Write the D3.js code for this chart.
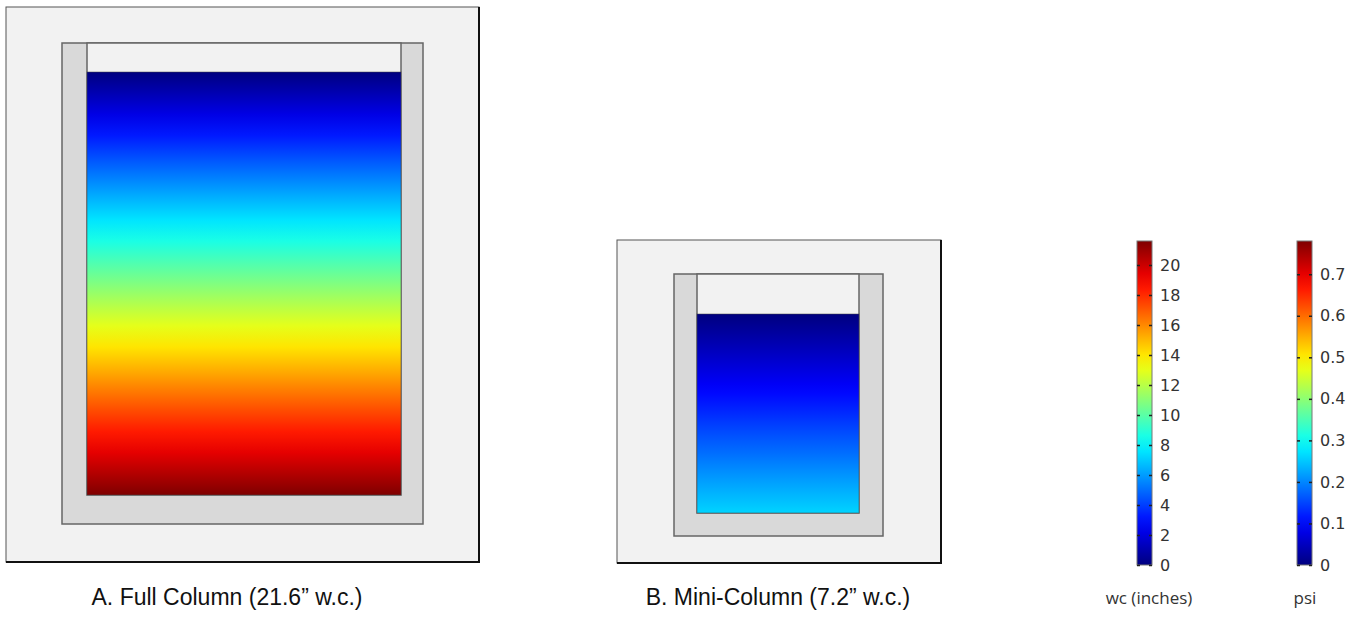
<!DOCTYPE html>
<html lang="en">
    <head>
        <meta charset="utf-8">
        <title>Hydrostatic pressure: full column vs mini-column</title>
        <script type="text/javascript" src="https://cdn.jsdelivr.net/npm/d3@7"></script>
        <style type="text/css">
            body { margin: 0; background: #ffffff; }
        </style>
    </head>

    <body>
        <script type="text/javascript">
            // Chart values
            var panelLabels = ["A. Full Column (21.6\u201D w.c.)", "B. Mini-Column (7.2\u201D w.c.)"];
            var columnDepths = [21.6, 7.2];          // water column height, inches w.c.
            var wcMax = 21.6;                        // colour scale max, inches w.c.
            var psiMax = 0.78;                       // same max in psi
            var wcTicks = [0, 2, 4, 6, 8, 10, 12, 14, 16, 18, 20];
            var psiTicks = [0, 0.1, 0.2, 0.3, 0.4, 0.5, 0.6, 0.7];
            var barTitles = ["wc (inches)", "psi"];

            // Layout of each drawing (pixels)
            var w = 1356;
            var h = 637;
            var panels = [
                { outer: [6, 7, 473, 555], box: [62, 43, 361, 481], cav: [87, 401, 495], fluidTop: 72, labelX: 227 },
                { outer: [617, 240, 324, 323], box: [674, 274, 209, 262], cav: [697, 859, 513], fluidTop: 314, labelX: 778 }
            ];

            // jet colour map, as used by the simulation output
            var jetStops = [[0, "#00007f"], [0.125, "#0000ff"], [0.375, "#00ffff"],
                            [0.625, "#ffff00"], [0.875, "#ff0000"], [1, "#7f0000"]];
            var jet = d3.scaleLinear()
                        .domain(jetStops.map(function(s) { return s[0]; }))
                        .range(jetStops.map(function(s) { return s[1]; }))
                        .interpolate(d3.interpolateRgb);

            var svg = d3.select("body")
                        .append("svg")
                        .attr("width", w)
                        .attr("height", h);

            var defs = svg.append("defs");

            // vertical gradient from 0 to a given value (in inches)
            function addGradient(id, maxVal) {
                var g = defs.append("linearGradient")
                            .attr("id", id)
                            .attr("x1", 0).attr("y1", 0)
                            .attr("x2", 0).attr("y2", 1);
                g.selectAll("stop")
                    .data(d3.range(0, 21))
                    .enter()
                    .append("stop")
                    .attr("offset", function(d) { return (d / 20 * 100) + "%"; })
                    .attr("stop-color", function(d) { return jet(d / 20 * maxVal / wcMax); });
            }

            panels.forEach(function(p, i) {
                var depth = columnDepths[i];
                var gp = svg.append("g");

                // outer frame
                gp.append("rect")
                    .attr("x", p.outer[0]).attr("y", p.outer[1])
                    .attr("width", p.outer[2]).attr("height", p.outer[3])
                    .attr("fill", "#f2f2f2")
                    .attr("stroke", "#555")
                    .attr("stroke-width", 1);
                gp.append("path")
                    .attr("d", "M" + (p.outer[0] + p.outer[2]) + "," + p.outer[1] +
                               "V" + (p.outer[1] + p.outer[3]) + "H" + p.outer[0])
                    .attr("fill", "none")
                    .attr("stroke", "#111")
                    .attr("stroke-width", 2);

                // container walls
                gp.append("rect")
                    .attr("x", p.box[0]).attr("y", p.box[1])
                    .attr("width", p.box[2]).attr("height", p.box[3])
                    .attr("fill", "#d9d9d9")
                    .attr("stroke", "#666")
                    .attr("stroke-width", 1.5);

                // cavity
                gp.append("rect")
                    .attr("x", p.cav[0]).attr("y", p.box[1])
                    .attr("width", p.cav[1] - p.cav[0]).attr("height", p.cav[2] - p.box[1])
                    .attr("fill", "#f2f2f2")
                    .attr("stroke", "#666")
                    .attr("stroke-width", 1.5);

                // water, coloured by pressure head
                var y = d3.scaleLinear()
                            .domain([0, depth])
                            .range([p.fluidTop, p.cav[2]]);
                addGradient("grad" + i, depth);
                gp.append("rect")
                    .attr("x", p.cav[0]).attr("y", y(0))
                    .attr("width", p.cav[1] - p.cav[0])
                    .attr("height", y(depth) - y(0))
                    .attr("fill", "url(#grad" + i + ")")
                    .attr("stroke", "#444")
                    .attr("stroke-opacity", 0.5)
                    .attr("stroke-width", 1);

                gp.append("text")
                    .text(panelLabels[i])
                    .attr("x", p.labelX)
                    .attr("y", 605)
                    .attr("font-family", "Liberation Sans, Arial, sans-serif")
                    .attr("font-size", "23px")
                    .attr("fill", "#111")
                    .attr("text-anchor", "middle");
            });

            // colour bars
            addGradient("gradBar", wcMax);
            var barTop = 241, barBottom = 565, barW = 15;
            var bars = [
                { x: 1137, max: wcMax, ticks: wcTicks, fmt: d3.format("d") },
                { x: 1297, max: psiMax, ticks: psiTicks, fmt: function(d) { return d === 0 ? "0" : d3.format(".1f")(d); } }
            ];

            bars.forEach(function(b, i) {
                var yScale = d3.scaleLinear()
                                .domain([0, b.max])
                                .range([barBottom, barTop]);
                var gb = svg.append("g");

                gb.append("rect")
                    .attr("x", b.x).attr("y", yScale(b.max))
                    .attr("width", barW)
                    .attr("height", yScale(0) - yScale(b.max))
                    .attr("fill", "url(#gradBar)")
                    .attr("transform", "rotate(180," + (b.x + barW / 2) + "," + ((barTop + barBottom) / 2) + ")")
                    .attr("stroke", "#777")
                    .attr("stroke-width", 1);

                var right = gb.append("g")
                    .attr("transform", "translate(" + (b.x + barW) + ",0)")
                    .call(d3.axisRight(yScale)
                            .tickValues(b.ticks)
                            .tickFormat(b.fmt)
                            .tickSizeInner(-3)
                            .tickSizeOuter(0)
                            .tickPadding(8));
                right.select(".domain").remove();
                right.selectAll("line").attr("stroke", "#222").attr("stroke-width", 1.5);
                right.selectAll("text")
                    .attr("font-family", "DejaVu Sans, sans-serif")
                    .attr("font-size", "16px")
                    .attr("fill", "#333");

                var left = gb.append("g")
                    .attr("transform", "translate(" + b.x + ",0)")
                    .call(d3.axisLeft(yScale)
                            .tickValues(b.ticks)
                            .tickFormat("")
                            .tickSizeInner(-3)
                            .tickSizeOuter(0));
                left.select(".domain").remove();
                left.selectAll("line").attr("stroke", "#222").attr("stroke-width", 1.5);

                gb.append("text")
                    .text(barTitles[i])
                    .attr("x", i === 0 ? 1149 : 1305)
                    .attr("y", 604)
                    .attr("font-family", "Open Sans, sans-serif")
                    .attr("font-size", "17px")
                    .attr("fill", "#333")
                    .attr("text-anchor", "middle");
            });
        </script>
    </body>
</html>
